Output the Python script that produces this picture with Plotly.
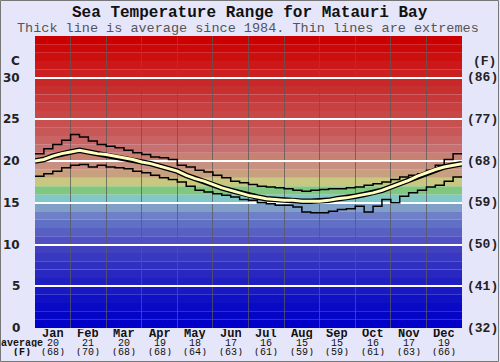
import plotly.graph_objects as go

# ---------------- data ----------------
months = ["Jan", "Feb", "Mar", "Apr", "May", "Jun", "Jul", "Aug", "Sep", "Oct", "Nov", "Dec"]
avg_c = [20, 21, 20, 19, 18, 17, 16, 15, 15, 16, 17, 19]
avg_f = [68, 70, 68, 68, 64, 63, 61, 59, 59, 61, 63, 66]
c_ticks = [0, 5, 10, 15, 20, 25, 30]
f_ticks = [32, 41, 50, 59, 68, 77, 86]

# extremes, one value per quarter month (48 steps)
max_temp = [20.9, 21.5, 22.0, 22.5, 23.2, 22.9, 22.4, 22.0,
            21.8, 21.6, 21.3, 21.0, 20.8, 20.5, 20.4, 20.2,
            19.5, 19.3, 18.9, 18.7, 18.3, 18.0, 17.6, 17.4,
            17.2, 17.0, 16.9, 16.8, 16.7, 16.5, 16.4, 16.5,
            16.6, 16.7, 16.7, 16.8, 16.9, 17.1, 17.3, 17.5,
            17.8, 18.1, 18.3, 18.5, 18.9, 19.5, 20.2, 20.9]
min_temp = [18.2, 18.5, 18.8, 19.2, 19.5, 19.6, 19.3, 19.5,
            19.3, 19.2, 19.1, 18.8, 18.6, 18.3, 18.0, 17.8,
            17.5, 17.0, 16.5, 16.3, 16.1, 15.9, 15.7, 15.4,
            15.3, 15.0, 14.9, 14.7, 14.7, 14.5, 13.9, 13.8,
            13.8, 14.0, 14.2, 14.3, 14.6, 13.9, 14.6, 15.4,
            15.0, 15.8, 16.2, 16.5, 16.9, 17.1, 17.6, 18.1]
# average, at quarter-month boundaries (49 points)
avg_temp = [20.0, 20.2, 20.6, 20.9, 21.1, 21.3, 21.1, 20.9,
            20.8, 20.6, 20.4, 20.2, 19.9, 19.7, 19.4, 19.1,
            18.8, 18.3, 17.9, 17.6, 17.2, 16.8, 16.5, 16.2,
            15.9, 15.7, 15.5, 15.4, 15.3, 15.3, 15.2, 15.2,
            15.2, 15.3, 15.5, 15.6, 15.8, 16.0, 16.2, 16.5,
            16.9, 17.3, 17.7, 18.2, 18.6, 19.0, 19.3, 19.5, 19.7]

# ---------------- styles ----------------
band_colors = ["#0000C8", "#0505C8", "#0A0AC6", "#1010C4", "#1818C4",
               "#2020C2", "#2828C0", "#3030C0", "#3838C0", "#4040C0",
               "#5050C4", "#5860C4", "#6070C4", "#7080C8", "#80A0C8",
               "#80C8C8", "#80C880", "#C8C880", "#C8A080", "#C89080",
               "#C88070", "#C87070", "#C86464", "#C85858", "#C85050",
               "#C84848", "#C84040", "#C83838", "#C83030", "#C82828",
               "#CC2020", "#CC1818", "#CC1010", "#CC0808", "#CC0000"]
BG = "#E6E6FA"
MONO = "Liberation Mono, Courier New, monospace"
SANS = "DejaVu Sans, Verdana, sans-serif"

q = [i / 4 for i in range(49)]

fig = go.Figure()

# extremes as step lines
fig.add_trace(go.Scatter(x=q, y=max_temp + [max_temp[-1]], mode="lines",
                         line=dict(color="black", width=1.5, shape="hv"),
                         hoverinfo="skip", showlegend=False))
fig.add_trace(go.Scatter(x=q, y=min_temp + [min_temp[-1]], mode="lines",
                         line=dict(color="black", width=1.5, shape="hv"),
                         hoverinfo="skip", showlegend=False))
# average: outlined thick line
fig.add_trace(go.Scatter(x=q, y=avg_temp, mode="lines",
                         line=dict(color="black", width=5.5),
                         hoverinfo="skip", showlegend=False))
fig.add_trace(go.Scatter(x=q, y=avg_temp, mode="lines",
                         line=dict(color="#FFFFC0", width=3),
                         hoverinfo="skip", showlegend=False))

shapes = []
for k, col in enumerate(band_colors):
    shapes.append(dict(type="rect", xref="paper", yref="y", x0=0, x1=1, y0=k, y1=k + 1,
                       fillcolor=col, line=dict(width=0), layer="below"))
# border of the whole image
W, H, L, R, T, B = 500, 362, 35, 38, 36, 34
pw, ph = W - L - R, H - T - B
shapes.append(dict(type="rect", xref="paper", yref="paper",
                   x0=(0.5 - L) / pw, x1=(W - 1.5 - L) / pw,
                   y0=-(B - 0.5) / ph, y1=1 + (T - 0.5) / ph,
                   line=dict(color="#777777", width=1), fillcolor="rgba(0,0,0,0)", layer="above"))

ann = []
ann.append(dict(text="<b>Sea Temperature Range for Matauri Bay</b>", xref="paper", yref="paper",
                x=(250 - L) / pw, y=1, yshift=T - 13, showarrow=False, xanchor="center", yanchor="middle",
                font=dict(family=MONO, size=16, color="#111111")))
ann.append(dict(text="Thick line is average since 1984. Thin lines are extremes", xref="paper", yref="paper",
                x=(248 - L) / pw, y=1, yshift=T - 28, showarrow=False, xanchor="center", yanchor="middle",
                font=dict(family=MONO, size=13.5, color="#555555")))
for c, f in zip(c_ticks, f_ticks):
    ann.append(dict(text="<b>%d</b>" % c, xref="paper", yref="y", x=0, y=c, xshift=-13,
                    showarrow=False, xanchor="right", yanchor="middle",
                    font=dict(family=SANS, size=12, color="#222222")))
    ann.append(dict(text="<b>(%d)</b>" % f, xref="paper", yref="y", x=1, y=c, xshift=3,
                    showarrow=False, xanchor="left", yanchor="middle",
                    font=dict(family=MONO, size=13, color="#222222")))
ann.append(dict(text="<b>C</b>", xref="paper", yref="y", x=0, y=32, xshift=-13,
                showarrow=False, xanchor="right", yanchor="middle",
                font=dict(family=SANS, size=12, color="#222222")))
ann.append(dict(text="<b>(F)</b>", xref="paper", yref="y", x=1, y=32, xshift=9,
                showarrow=False, xanchor="left", yanchor="middle",
                font=dict(family=MONO, size=13, color="#222222")))
for i, (m, c, f) in enumerate(zip(months, avg_c, avg_f)):
    ann.append(dict(text="<b>%s</b>" % m, xref="x", yref="paper", x=i + 0.5, y=0, yshift=-6,
                    showarrow=False, xanchor="center", yanchor="middle", height=10,
                    font=dict(family=MONO, size=12, color="#111111")))
    ann.append(dict(text="%d" % c, xref="x", yref="paper", x=i + 0.5, y=0, yshift=-15,
                    showarrow=False, xanchor="center", yanchor="middle", height=8,
                    font=dict(family=MONO, size=10, color="#111111")))
    ann.append(dict(text="(%d)" % f, xref="x", yref="paper", x=i + 0.5, y=0, yshift=-24,
                    showarrow=False, xanchor="center", yanchor="middle", height=8,
                    font=dict(family=MONO, size=10, color="#111111")))
ann.append(dict(text="<b>average</b>", xref="paper", yref="paper", x=0, y=0, xshift=-13, yshift=-15,
                showarrow=False, xanchor="center", yanchor="middle", height=8,
                font=dict(family=MONO, size=10, color="#111111")))
ann.append(dict(text="<b>(F)</b>", xref="paper", yref="paper", x=0, y=0, xshift=-13, yshift=-24,
                showarrow=False, xanchor="center", yanchor="middle", height=8,
                font=dict(family=MONO, size=10, color="#111111")))

fig.update_layout(
    width=W, height=H,
    margin=dict(l=L, r=R, t=T, b=B, pad=0),
    paper_bgcolor=BG, plot_bgcolor=BG,
    showlegend=False,
    shapes=shapes, annotations=ann,
    xaxis=dict(range=[0, 12], tickvals=list(range(1, 12)), showticklabels=False,
               showgrid=True, gridcolor="rgba(90,90,90,0.75)", gridwidth=1,
               zeroline=False, showline=False, ticks="", fixedrange=True),
    yaxis=dict(range=[0, 35], tickvals=c_ticks[1:], showticklabels=False,
               showgrid=True, gridcolor="white", gridwidth=2,
               zeroline=False, showline=False, ticks="", fixedrange=True),
)

fig.write_html("out.html", config={"displayModeBar": False},
               post_script="document.body.style.margin='0';document.body.style.padding='0';")
